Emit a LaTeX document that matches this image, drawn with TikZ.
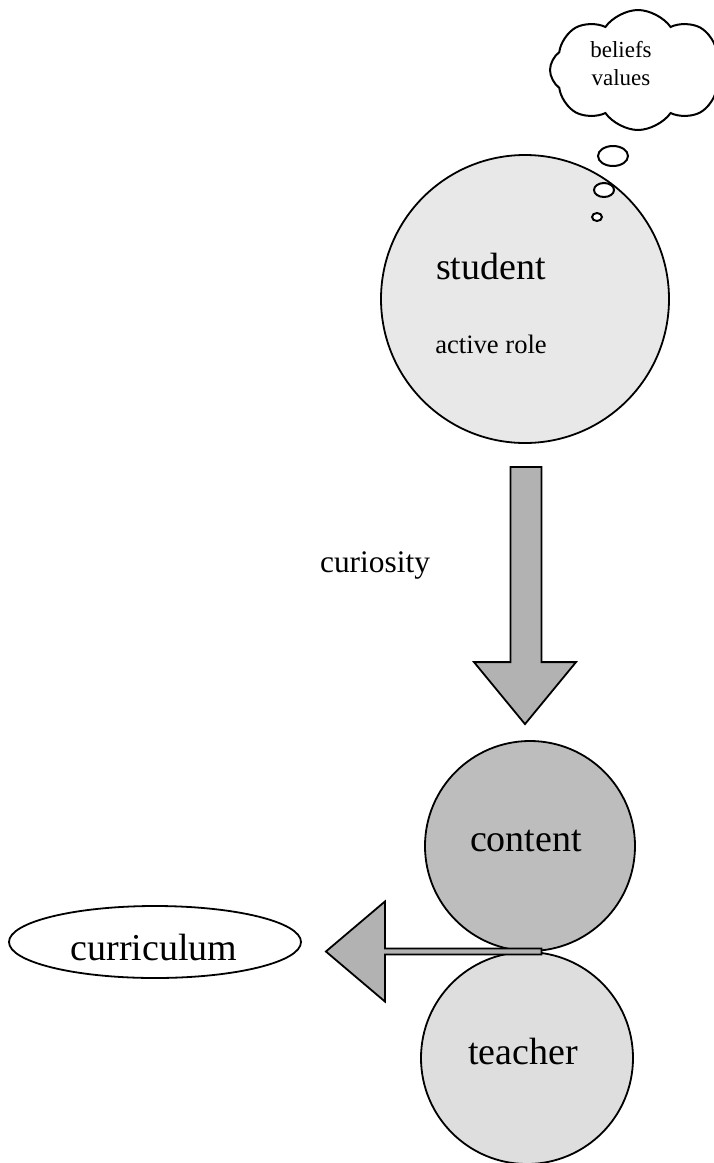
\documentclass[tikz,border=0pt]{standalone}
\usepackage{fontspec}
\setmainfont{Liberation Serif}
\usetikzlibrary{shapes.symbols, shapes.geometric, calc}

\begin{document}
\begin{tikzpicture}[x=0.5pt, y=-0.5pt, line width=0.9pt,
  ball/.style={draw, circle, inner sep=0pt},
  bubble/.style={draw, ellipse, fill=white, inner sep=0pt, line width=1pt},
  blockarrow/.style={draw, fill=gray!60, line join=miter},
  bigtext/.style={font=\fontsize{19}{19}\selectfont}]
\useasboundingbox (0,0) rectangle (713,1163);
\node[ball, fill=gray!18, minimum size=144pt] (student) at (525,299) {};
\node[ball, fill=gray!52, minimum size=105pt] (content) at (530,846) {};
\node[ball, fill=gray!26, minimum size=106pt] (teacher) at (527,1058) {};
\node[draw, ellipse, fill=white, minimum width=146pt, minimum height=36pt] (curriculum) at (155,942) {};
\node[bigtext] (studentlabel) at (491,266) {student};
\node[font=\fontsize{13.3}{13.3}\selectfont] (rolelabel) at (491,344) {active role};
\node[bigtext] (contentlabel) at (526,841) {content};
\node[bigtext] (teacherlabel) at (523,1051) {teacher};
\node[bigtext] (curriculumlabel) at (154,947) {curriculum};
\node[font=\fontsize{15.7}{15.7}\selectfont] (curiositylabel) at (375,565) {curiosity};
% thought cloud
\node[draw, cloud, cloud puffs=8, cloud puff arc=110, cloud ignores aspect, line width=1pt,
  minimum width=88pt, minimum height=60pt] (thought) at (638,70) {};
\node[font=\fontsize{11.5}{14}\selectfont, align=center] (thoughtlabel) at (621,64) {beliefs\\values};
\node[bubble, minimum width=15pt, minimum height=10pt] (bubbleA) at (613,156) {};
\node[bubble, minimum width=10pt, minimum height=7pt] (bubbleB) at (604,190) {};
\node[bubble, minimum width=5pt, minimum height=4pt] (bubbleC) at (597,217) {};
% student to content
\coordinate (tailA) at ($(student.south)+(1,23)$);
\coordinate (tipA) at ($(content.north)+(-5,-16)$);
\draw[blockarrow] ($(tailA)+(-15.5,0)$) -- ($(tailA)+(15.5,0)$) -- ($(tipA)+(16.5,-62)$)
  -- ($(tipA)+(51,-62)$) -- (tipA) -- ($(tipA)+(-51,-62)$) -- ($(tipA)+(-14.5,-62)$) -- cycle;
% content and teacher to curriculum
\coordinate (touch) at ($(content.south)!0.5!(teacher.north)$);
\coordinate (tipB) at ($(curriculum.east |- touch)+(24,0)$);
\draw[blockarrow] ($(touch)+(13,-3)$) -- ($(touch)+(13,3)$) -- ($(tipB)+(59,3)$)
  -- ($(tipB)+(59,50)$) -- (tipB) -- ($(tipB)+(59,-50)$) -- ($(tipB)+(59,-3)$) -- cycle;
\end{tikzpicture}
\end{document}
